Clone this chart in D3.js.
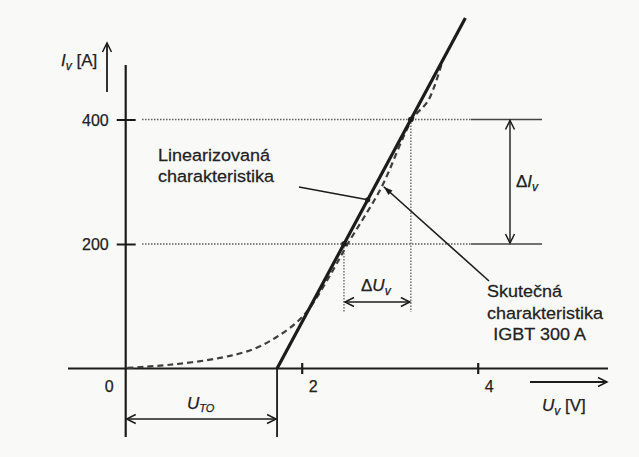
<!DOCTYPE html>
<html>
<head>
<meta charset="utf-8">
<script src="https://cdn.jsdelivr.net/npm/d3@7"></script>
<style>
  html, body { margin: 0; padding: 0; background: #f9f9f7; }
  svg { display: block; }
  text { font-family: "Liberation Sans", Arial, sans-serif; fill: #222; stroke: #222; stroke-width: 0.25px; }
</style>
</head>
<body>
<svg id="chart" width="639" height="457"></svg>
<script>
// Voltage ticks [V] and current ticks [A]
const uTicks = [0, 2, 4];
const iTicks = [200, 400];

// Threshold voltage of the linearized model [V]
const uTO = 1.72;

// Linearized characteristic: end points (U [V], I [A])
const linearU = [1.72, 3.86];
const linearI = [0, 563];

// Measured (real) characteristic of the IGBT 300 A
const realU = [0.02, 0.50, 1.07, 1.45, 1.72, 1.95, 2.10, 2.29, 2.40, 2.53, 2.70, 2.91, 3.26, 3.44, 3.61];
const realI = [1, 6, 17, 31, 51, 75, 99, 142, 169, 202, 241, 292, 401, 431, 499];

// Current levels used for the ΔU / ΔI construction
const deltaLevels = [200, 400];

const svg = d3.select("#chart");
const ink = "#1c1c1c";
const grey = "#5e5e5e";

const x = d3.scaleLinear().domain([0, 4]).range([125.7, 477.7]);
const y = d3.scaleLinear().domain([0, 400]).range([368.5, 119.5]);

// voltage on the linearized line at a given current
const linU = i => linearU[0] + (i - linearI[0]) * (linearU[1] - linearU[0]) / (linearI[1] - linearI[0]);

// open arrowheads
const defs = svg.append("defs");
defs.append("marker")
  .attr("id", "open")
  .attr("markerUnits", "userSpaceOnUse")
  .attr("viewBox", "-10 -6 12 12")
  .attr("refX", 0).attr("refY", 0)
  .attr("markerWidth", 12).attr("markerHeight", 12)
  .attr("orient", "auto-start-reverse")
  .append("path")
  .attr("d", "M-9,-4.5 L0,0 L-9,4.5")
  .attr("fill", "none")
  .attr("stroke", ink)
  .attr("stroke-width", 1.5);
defs.append("marker")
  .attr("id", "solid")
  .attr("markerUnits", "userSpaceOnUse")
  .attr("viewBox", "-10 -5 12 10")
  .attr("refX", 0).attr("refY", 0)
  .attr("markerWidth", 12).attr("markerHeight", 10)
  .attr("orient", "auto")
  .append("path")
  .attr("d", "M-9,-3 L0,0 L-9,3 Z")
  .attr("fill", ink);

// ---- guide lines at 200 A and 400 A (dotted, then solid for the ΔI dimension)
const guideEndX = 542;
const guideSolidFrom = 471;
iTicks.forEach(v => {
  svg.append("line")
    .attr("x1", 142).attr("x2", guideSolidFrom)
    .attr("y1", y(v)).attr("y2", y(v))
    .attr("stroke", grey).attr("stroke-width", 1.4)
    .attr("stroke-dasharray", "1.5,1.5");
  svg.append("line")
    .attr("x1", guideSolidFrom).attr("x2", guideEndX)
    .attr("y1", y(v)).attr("y2", y(v))
    .attr("stroke", "#444").attr("stroke-width", 1.4);
});

// ---- ΔU construction: vertical dotted lines from the linearized line down
deltaLevels.forEach(v => {
  svg.append("line")
    .attr("x1", x(linU(v))).attr("x2", x(linU(v)))
    .attr("y1", y(v)).attr("y2", 312)
    .attr("stroke", grey).attr("stroke-width", 1.3)
    .attr("stroke-dasharray", "1.5,1.5");
});
svg.append("line")
  .attr("x1", x(linU(deltaLevels[0])) + 1).attr("x2", x(linU(deltaLevels[1])) - 1)
  .attr("y1", 302).attr("y2", 302)
  .attr("stroke", ink).attr("stroke-width", 1.4)
  .attr("marker-start", "url(#open)").attr("marker-end", "url(#open)");
const dU = svg.append("text").attr("x", 361).attr("y", 291).style("font-size", "17px");
dU.append("tspan").text("Δ");
dU.append("tspan").style("font-style", "italic").text("U");
dU.append("tspan").attr("dy", 4).style("font-size", "12px").style("font-style", "italic").text("v");

// ---- ΔI dimension arrow
svg.append("line")
  .attr("x1", 510).attr("x2", 510)
  .attr("y1", y(deltaLevels[1]) + 1).attr("y2", y(deltaLevels[0]) - 1)
  .attr("stroke", ink).attr("stroke-width", 1.4)
  .attr("marker-start", "url(#open)").attr("marker-end", "url(#open)");
const dI = svg.append("text").attr("x", 516).attr("y", 187).style("font-size", "17px");
dI.append("tspan").text("Δ");
dI.append("tspan").style("font-style", "italic").text("I");
dI.append("tspan").attr("dy", 4).style("font-size", "12px").style("font-style", "italic").text("v");

// ---- axes
svg.append("line")
  .attr("x1", 68).attr("x2", 608)
  .attr("y1", y(0)).attr("y2", y(0))
  .attr("stroke", ink).attr("stroke-width", 2.2);
svg.append("line")
  .attr("x1", x(0)).attr("x2", x(0))
  .attr("y1", 65).attr("y2", 437)
  .attr("stroke", ink).attr("stroke-width", 2.2);

const xAxis = d3.axisBottom(x).tickValues(uTicks).tickSize(11).tickSizeOuter(0).tickFormat(d3.format("d"));
const gx = svg.append("g").attr("transform", `translate(0,${y(0) - 5.5})`).call(xAxis);
gx.select(".domain").remove();
gx.selectAll(".tick line").attr("stroke", ink).attr("stroke-width", 2.2)
  .attr("display", d => d === 0 ? "none" : null);
gx.selectAll(".tick text")
  .attr("x", d => d === 0 ? -17 : 11)
  .attr("y", 29).attr("dy", 0)
  .style("font-size", "16px").style("font-family", "Liberation Sans, Arial, sans-serif")
  .attr("fill", "#222");

const yAxis = d3.axisLeft(y).tickValues(iTicks).tickSize(19).tickSizeOuter(0);
const gy = svg.append("g").attr("transform", `translate(${x(0) + 10},0)`).call(yAxis);
gy.select(".domain").remove();
gy.selectAll(".tick line").attr("stroke", ink).attr("stroke-width", 2);
gy.selectAll(".tick text")
  .attr("x", -27).attr("dy", "0.36em")
  .style("font-size", "16px").style("font-family", "Liberation Sans, Arial, sans-serif")
  .attr("fill", "#222");

// axis direction arrows and labels
svg.append("line")
  .attr("x1", 107).attr("x2", 107).attr("y1", 92).attr("y2", 43)
  .attr("stroke", ink).attr("stroke-width", 1.8)
  .attr("marker-end", "url(#open)");
const iLab = svg.append("text").attr("x", 61).attr("y", 66).style("font-size", "17px");
iLab.append("tspan").style("font-style", "italic").text("I");
iLab.append("tspan").attr("dy", 4).style("font-size", "12px").style("font-style", "italic").text("v");
iLab.append("tspan").attr("dy", -4).text(" [A]");

svg.append("line")
  .attr("x1", 530).attr("x2", 607).attr("y1", 382).attr("y2", 382)
  .attr("stroke", ink).attr("stroke-width", 1.8)
  .attr("marker-end", "url(#open)");
const uLab = svg.append("text").attr("x", 542).attr("y", 411).style("font-size", "17px");
uLab.append("tspan").style("font-style", "italic").text("U");
uLab.append("tspan").attr("dy", 4).style("font-size", "12px").style("font-style", "italic").text("v");
uLab.append("tspan").attr("dy", -4).text(" [V]");

// ---- U_TO dimension
svg.append("line")
  .attr("x1", x(uTO)).attr("x2", x(uTO))
  .attr("y1", y(0)).attr("y2", 437)
  .attr("stroke", ink).attr("stroke-width", 1.8);
svg.append("line")
  .attr("x1", x(0) + 1).attr("x2", x(uTO) - 1)
  .attr("y1", 419).attr("y2", 419)
  .attr("stroke", ink).attr("stroke-width", 1.4)
  .attr("marker-start", "url(#open)").attr("marker-end", "url(#open)");
const uto = svg.append("text").attr("x", 187).attr("y", 409).style("font-size", "17px");
uto.append("tspan").style("font-style", "italic").text("U");
uto.append("tspan").attr("dy", 3).style("font-size", "11px").style("font-style", "italic").text("TO");

// ---- real characteristic (dashed)
const realData = realU.map((u, k) => [u, realI[k]]);
svg.append("path")
  .datum(realData)
  .attr("d", d3.line().x(d => x(d[0])).y(d => y(d[1])).curve(d3.curveCatmullRom.alpha(0.5)))
  .attr("fill", "none")
  .attr("stroke", "#3e3e3e").attr("stroke-width", 2.2)
  .attr("stroke-dasharray", "6,4");

// ---- linearized characteristic (solid, heavy)
const linData = linearU.map((u, k) => [u, linearI[k]]);
svg.append("path")
  .datum(linData)
  .attr("d", d3.line().x(d => x(d[0])).y(d => y(d[1])))
  .attr("fill", "none")
  .attr("stroke", ink).attr("stroke-width", 3.2);

// intersection dots on the linearized line
deltaLevels.forEach(v => {
  svg.append("circle").attr("cx", x(linU(v))).attr("cy", y(v)).attr("r", 2.8).attr("fill", ink);
});

// ---- annotation: linearized characteristic
const linPtI = 271;
svg.append("line")
  .attr("x1", 299).attr("y1", 187)
  .attr("x2", x(linU(linPtI))).attr("y2", y(linPtI))
  .attr("stroke", ink).attr("stroke-width", 1.6);
svg.append("circle").attr("cx", x(linU(linPtI))).attr("cy", y(linPtI)).attr("r", 2.6).attr("fill", ink);
const t1 = svg.append("g").attr("transform", "translate(158,161) scale(1.06,1)");
t1.append("text").attr("x", 0).attr("y", 0).style("font-size", "17px").text("Linearizovaná");
t1.append("text").attr("x", 0).attr("y", 21).style("font-size", "17px").text("charakteristika");

// ---- annotation: real characteristic
svg.append("line")
  .attr("x1", 489).attr("y1", 281)
  .attr("x2", x(2.91) + 2).attr("y2", y(292))
  .attr("stroke", ink).attr("stroke-width", 1.6)
  .attr("marker-end", "url(#solid)");
const t2 = svg.append("g").attr("transform", "translate(487,297) scale(1.06,1)");
t2.append("text").attr("x", 0).attr("y", 0).style("font-size", "17px").text("Skutečná");
t2.append("text").attr("x", 0).attr("y", 22).style("font-size", "17px").text("charakteristika");
t2.append("text").attr("x", 6).attr("y", 43).style("font-size", "17px").text("IGBT 300 A");
</script>
</body>
</html>
